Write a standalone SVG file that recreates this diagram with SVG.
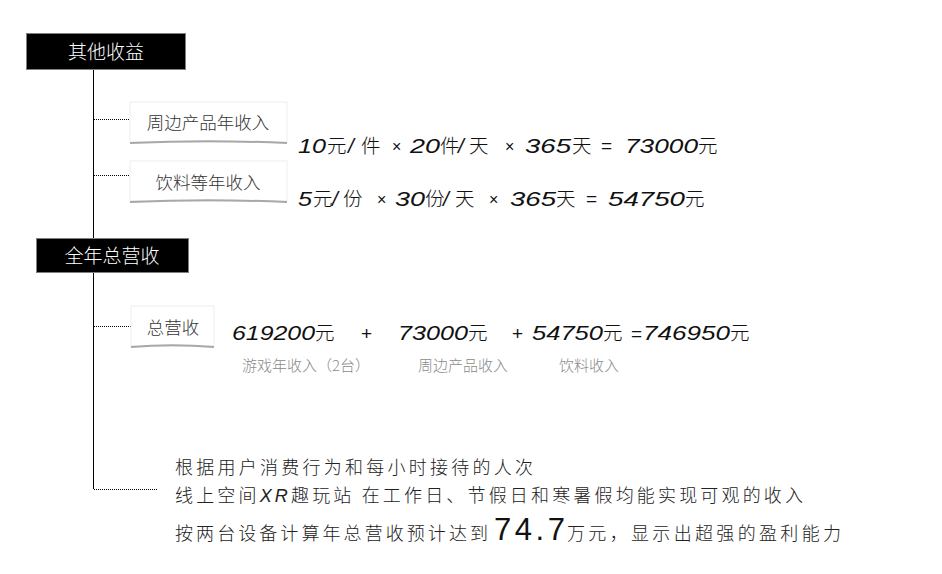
<svg xmlns="http://www.w3.org/2000/svg" width="942" height="574" viewBox="0 0 942 574">
<defs>
<style>
.hdr{fill:#000;stroke:#7f7f7f;stroke-width:1;}
.hdrt{font-family:"Noto Sans CJK SC",sans-serif;font-size:19px;fill:#fff;text-anchor:middle;font-weight:300;}
.sub{fill:#fff;stroke:#eeeeee;stroke-width:1;}
.subt{font-family:"Noto Sans CJK SC",sans-serif;font-size:17.5px;fill:#333;text-anchor:middle;font-weight:300;}
.shadow{stroke:#a8a8a8;stroke-width:2;fill:none;}
.d{font-family:"Liberation Sans",sans-serif;font-style:italic;font-size:21px;fill:#111;}
.o{font-family:"Liberation Sans",sans-serif;font-size:19px;fill:#111;}
.x{font-family:"Liberation Sans",sans-serif;font-size:16px;fill:#111;}
.c{font-family:"Noto Sans CJK SC",sans-serif;font-weight:300;font-size:19.5px;fill:#111;}
.gray{font-family:"Noto Sans CJK SC",sans-serif;font-size:15px;fill:#8a8a8a;font-weight:300;}
.body{font-family:"Noto Sans CJK SC","Liberation Sans",sans-serif;font-size:18px;fill:#222;font-weight:300;}
.trunk{stroke:#000;stroke-width:1;fill:none;}
.dot{stroke:#000;stroke-width:1;stroke-dasharray:1 1;fill:none;}
</style>
</defs>
<rect width="942" height="574" fill="#fff"/>
<g id="connectors">
<line class="trunk" x1="93.5" y1="70" x2="93.5" y2="489"/>
<line class="dot" x1="94" y1="119.5" x2="130" y2="119.5"/>
<line class="dot" x1="94" y1="175.5" x2="130" y2="175.5"/>
<line class="dot" x1="94" y1="326.5" x2="131" y2="326.5"/>
<line class="dot" x1="94" y1="489.5" x2="157" y2="489.5"/>
</g>
<g id="node-other">
<rect class="hdr" x="26.5" y="33.5" width="159" height="36"/>
<text class="hdrt" x="106" y="59">其他收益</text>
</g>
<g id="node-merch">
<rect class="sub" x="130" y="102" width="157" height="40"/>
<path class="shadow" d="M130,143 Q208,139.5 287,143"/>
<text class="subt" x="208" y="129">周边产品年收入</text>
</g>
<g id="node-drink">
<rect class="sub" x="130" y="161" width="157" height="40"/>
<path class="shadow" d="M130,202 Q208,198.5 287,202"/>
<text class="subt" x="208" y="189">饮料等年收入</text>
</g>
<g id="node-total">
<rect class="hdr" x="36.5" y="238.5" width="152" height="34"/>
<text class="hdrt" x="112" y="263">全年总营收</text>
</g>
<g id="node-sum">
<rect class="sub" x="131" y="306" width="83" height="40"/>
<path class="shadow" d="M131,347 Q172,343.5 214,347"/>
<text class="subt" x="173" y="334">总营收</text>
</g>
<g id="formula-merch">
<text class="d" x="298" y="153" textLength="28" lengthAdjust="spacingAndGlyphs">10</text>
<text class="c" x="327" y="153">元</text>
<text class="d" x="348" y="153">/</text>
<text class="c" x="361" y="153">件</text>
<text class="x" x="392" y="152">×</text>
<text class="d" x="410" y="153" textLength="30" lengthAdjust="spacingAndGlyphs">20</text>
<text class="c" x="440" y="153">件</text>
<text class="d" x="458" y="153">/</text>
<text class="c" x="469" y="153">天</text>
<text class="x" x="505" y="152">×</text>
<text class="d" x="525" y="153" textLength="46" lengthAdjust="spacingAndGlyphs">365</text>
<text class="c" x="572" y="153">天</text>
<text class="o" x="601" y="152">=</text>
<text class="d" x="625" y="153" textLength="73" lengthAdjust="spacingAndGlyphs">73000</text>
<text class="c" x="698" y="153">元</text>
</g>
<g id="formula-drink">
<text class="d" x="298" y="206" textLength="14" lengthAdjust="spacingAndGlyphs">5</text>
<text class="c" x="313" y="206">元</text>
<text class="d" x="332" y="206">/</text>
<text class="c" x="343" y="206">份</text>
<text class="x" x="377" y="205">×</text>
<text class="d" x="395" y="206" textLength="30" lengthAdjust="spacingAndGlyphs">30</text>
<text class="c" x="425" y="206">份</text>
<text class="d" x="443" y="206">/</text>
<text class="c" x="455" y="206">天</text>
<text class="x" x="489" y="205">×</text>
<text class="d" x="510" y="206" textLength="46" lengthAdjust="spacingAndGlyphs">365</text>
<text class="c" x="556" y="206">天</text>
<text class="o" x="586" y="205">=</text>
<text class="d" x="608" y="206" textLength="77" lengthAdjust="spacingAndGlyphs">54750</text>
<text class="c" x="685" y="206">元</text>
</g>
<g id="formula-total">
<text class="d" x="232" y="340" textLength="83" lengthAdjust="spacingAndGlyphs">619200</text>
<text class="c" x="315" y="340">元</text>
<text class="o" x="361" y="340">+</text>
<text class="d" x="398" y="340" textLength="70" lengthAdjust="spacingAndGlyphs">73000</text>
<text class="c" x="468" y="340">元</text>
<text class="o" x="512" y="340">+</text>
<text class="d" x="532" y="340" textLength="71" lengthAdjust="spacingAndGlyphs">54750</text>
<text class="c" x="603" y="340">元</text>
<text class="o" x="631" y="340">=</text>
<text class="d" x="643" y="340" textLength="87" lengthAdjust="spacingAndGlyphs">746950</text>
<text class="c" x="730" y="340">元</text>
<text class="gray" x="242" y="371">游戏年收入（2台）</text>
<text class="gray" x="418" y="371">周边产品收入</text>
<text class="gray" x="559" y="371">饮料收入</text>
</g>
<g id="summary">
<text class="body" x="175" y="474" textLength="358" lengthAdjust="spacing">根据用户消费行为和每小时接待的人次</text>
<text class="body" x="175" y="502" textLength="628" lengthAdjust="spacing">线上空间<tspan font-style="italic" font-family="Liberation Sans">XR</tspan>趣玩站 在工作日、节假日和寒暑假均能实现可观的收入</text>
<text class="body" x="175" y="540" textLength="313" lengthAdjust="spacing">按两台设备计算年总营收预计达到</text>
<text x="494" y="540" font-family="Liberation Sans,sans-serif" font-size="31" fill="#111" textLength="71" lengthAdjust="spacing">74.7</text>
<text class="body" x="567" y="540" textLength="274" lengthAdjust="spacing">万元，显示出超强的盈利能力</text>
</g>
</svg>
